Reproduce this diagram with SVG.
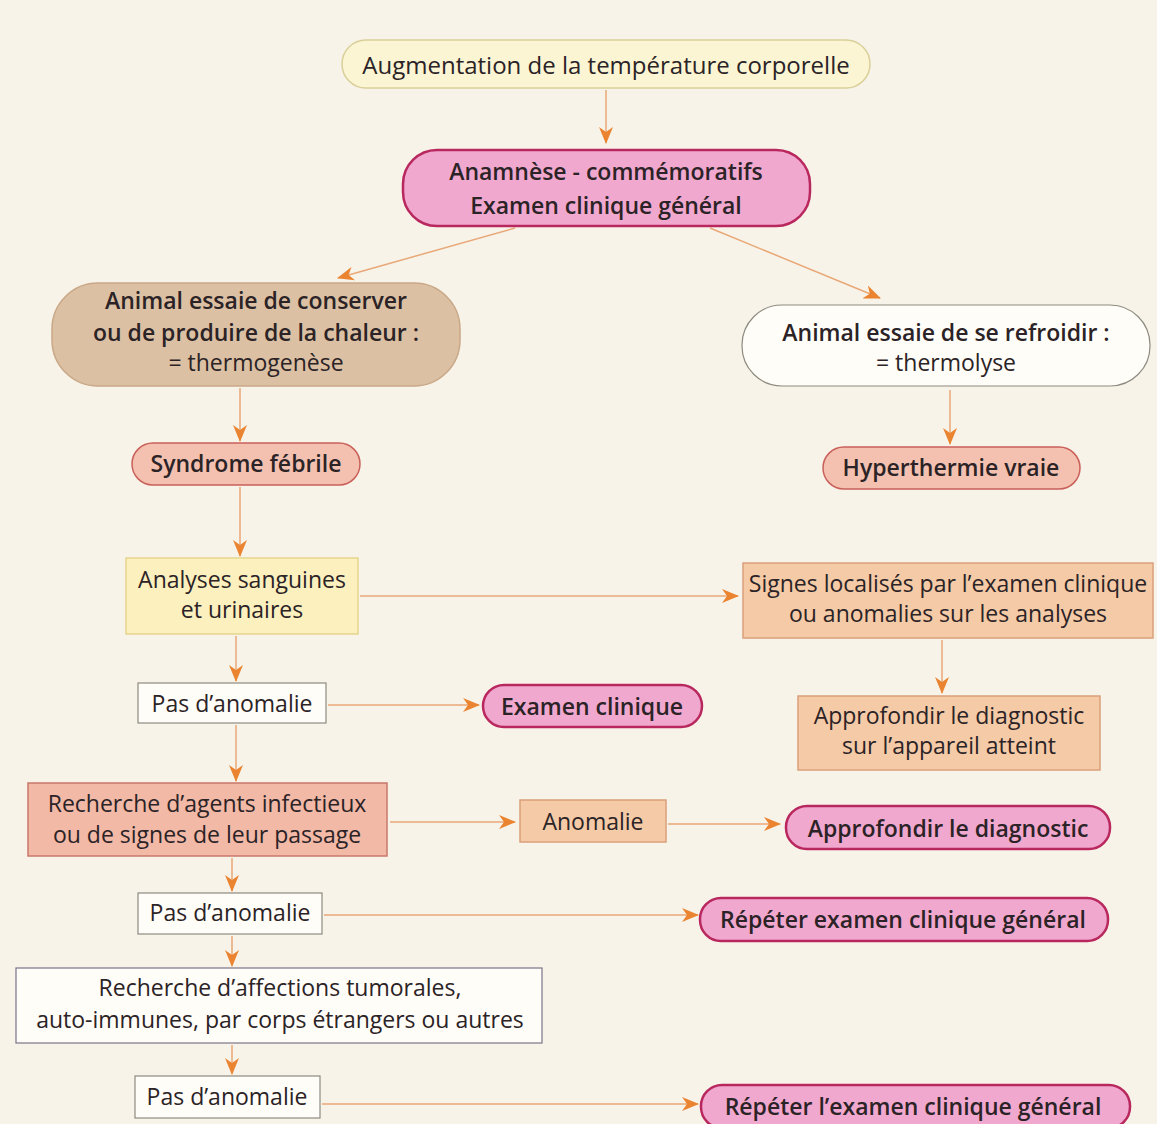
<svg xmlns="http://www.w3.org/2000/svg" width="1157" height="1124" viewBox="0 0 1157 1124">
<defs>
<marker id="arr" markerWidth="18" markerHeight="14" refX="16" refY="7" orient="auto" markerUnits="userSpaceOnUse">
<path d="M0,0 L17,7 L0,14 L5,7 z" fill="#ea8430"/>
</marker>
</defs>
<style>
text{font-family:"Open Sans",Lato,"DejaVu Sans",sans-serif;font-size:23px;fill:#2b2326;text-anchor:middle;dominant-baseline:central}
.b{font-weight:600}
.c{stroke:#e8a878;stroke-width:1.5;fill:none;marker-end:url(#arr)}
.yel{fill:#fbf5d4;stroke:#d9cf98;stroke-width:1.5}
.pink{fill:#f1a8cf;stroke:#b8285e;stroke-width:2.5}
.tan{fill:#dcc0a3;stroke:#c9a888;stroke-width:1.5}
.wht{fill:#fffdf8;stroke:#8d8a80;stroke-width:1.2}
.sal{fill:#f4c1b0;stroke:#c9605a;stroke-width:1.5}
.ylr{fill:#fbf0be;stroke:#e6d58c;stroke-width:1.5}
.pch{fill:#f5caa6;stroke:#d8a07a;stroke-width:1.5}
.srec{fill:#f2b9a6;stroke:#c8786a;stroke-width:1.5}
</style>
<rect x="0" y="0" width="1157" height="1124" fill="#f8f3e8"/>
<g id="connectors">
<line class="c" x1="606" y1="90" x2="606" y2="143"/>
<line class="c" x1="515" y1="228" x2="338" y2="278"/>
<line class="c" x1="710" y1="228" x2="880" y2="298"/>
<line class="c" x1="240" y1="388" x2="240" y2="441"/>
<line class="c" x1="950" y1="390" x2="950" y2="444"/>
<line class="c" x1="240" y1="487" x2="240" y2="556"/>
<line class="c" x1="360" y1="596" x2="738" y2="596"/>
<line class="c" x1="942" y1="640" x2="942" y2="693"/>
<line class="c" x1="236" y1="636" x2="236" y2="681"/>
<line class="c" x1="328" y1="705" x2="479" y2="705"/>
<line class="c" x1="236" y1="725" x2="236" y2="781"/>
<line class="c" x1="390" y1="822" x2="515" y2="822"/>
<line class="c" x1="668" y1="824" x2="780" y2="824"/>
<line class="c" x1="232" y1="858" x2="232" y2="891"/>
<line class="c" x1="324" y1="915" x2="698" y2="915"/>
<line class="c" x1="232" y1="936" x2="232" y2="966"/>
<line class="c" x1="232" y1="1045" x2="232" y2="1074"/>
<line class="c" x1="322" y1="1104" x2="698" y2="1104"/>
</g>
<g id="n1"><rect class="yel" x="342" y="40" width="528" height="48" rx="24"/><text x="606" y="64" style="font-size:24px">Augmentation de la température corporelle</text></g>
<g id="n2"><rect class="pink" x="403" y="150" width="407" height="76" rx="34"/><text class="b" x="606" y="171">Anamnèse - commémoratifs</text><text class="b" x="606" y="205">Examen clinique général</text></g>
<g id="n3"><rect class="tan" x="52" y="283" width="408" height="103" rx="46"/><text class="b" x="256" y="300">Animal essaie de conserver</text><text class="b" x="256" y="332">ou de produire de la chaleur :</text><text x="256" y="362">= thermogenèse</text></g>
<g id="n4"><rect class="wht" x="742" y="305" width="408" height="81" rx="40"/><text class="b" x="946" y="332">Animal essaie de se refroidir :</text><text x="946" y="362">= thermolyse</text></g>
<g id="n5"><rect class="sal" x="132" y="443" width="228" height="42" rx="21"/><text class="b" x="246" y="463">Syndrome fébrile</text></g>
<g id="n6"><rect class="sal" x="823" y="447" width="257" height="42" rx="21"/><text class="b" x="951" y="467">Hyperthermie vraie</text></g>
<g id="n7"><rect class="ylr" x="126" y="558" width="232" height="76"/><text x="242" y="579">Analyses sanguines</text><text x="242" y="609">et urinaires</text></g>
<g id="n8"><rect class="pch" x="743" y="563" width="410" height="75"/><text x="948" y="583">Signes localisés par l’examen clinique</text><text x="948" y="613">ou anomalies sur les analyses</text></g>
<g id="n9"><rect class="wht" x="138" y="683" width="188" height="40"/><text x="232" y="703">Pas d’anomalie</text></g>
<g id="n10"><rect class="pink" x="483" y="685" width="219" height="42" rx="21"/><text class="b" x="592" y="706">Examen clinique</text></g>
<g id="n11"><rect class="pch" x="798" y="696" width="302" height="74"/><text x="949" y="715">Approfondir le diagnostic</text><text x="949" y="745">sur l’appareil atteint</text></g>
<g id="n12"><rect class="srec" x="28" y="783" width="359" height="73"/><text x="207" y="803">Recherche d’agents infectieux</text><text x="207" y="834">ou de signes de leur passage</text></g>
<g id="n13"><rect class="pch" x="520" y="800" width="146" height="42"/><text x="593" y="821">Anomalie</text></g>
<g id="n14"><rect class="pink" x="786" y="806" width="324" height="43" rx="21"/><text class="b" x="948" y="828">Approfondir le diagnostic</text></g>
<g id="n15"><rect class="wht" x="138" y="893" width="184" height="41"/><text x="230" y="912">Pas d’anomalie</text></g>
<g id="n16"><rect class="pink" x="700" y="898" width="408" height="43" rx="21"/><text class="b" x="903" y="919">Répéter examen clinique général</text></g>
<g id="n17"><rect class="wht" x="16" y="968" width="526" height="75" style="stroke:#7a7488"/><text x="280" y="987">Recherche d’affections tumorales,</text><text x="280" y="1019">auto-immunes, par corps étrangers ou autres</text></g>
<g id="n18"><rect class="wht" x="135" y="1076" width="185" height="42"/><text x="227" y="1096">Pas d’anomalie</text></g>
<g id="n19"><rect class="pink" x="701" y="1085" width="429" height="43" rx="21"/><text class="b" x="913" y="1106">Répéter l’examen clinique général</text></g>
</svg>
